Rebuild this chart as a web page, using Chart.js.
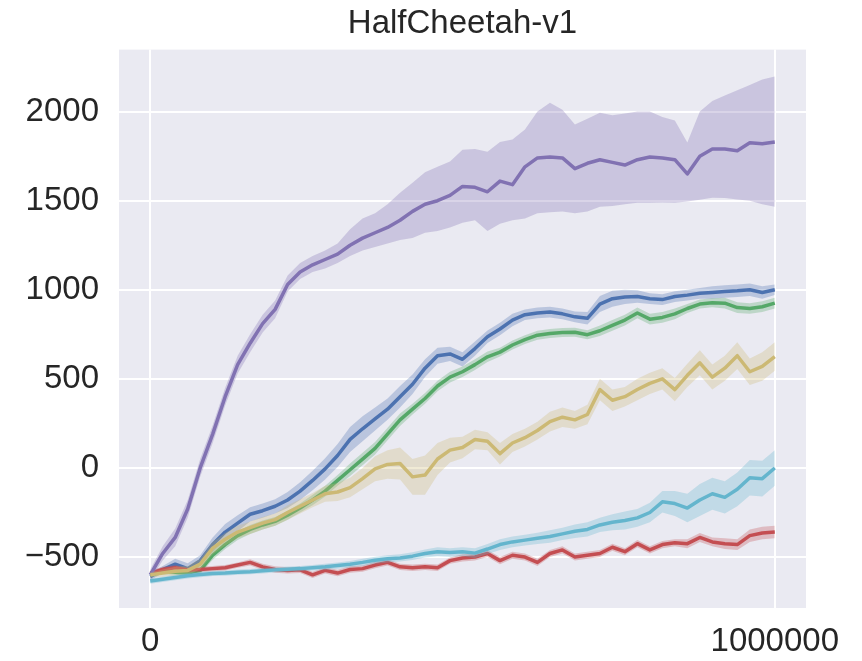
<!DOCTYPE html>
<html>
<head>
<meta charset="utf-8">
<style>
  html, body { margin: 0; padding: 0; background: #ffffff; }
  #wrap { width: 862px; height: 661px; position: relative; }
</style>
<script src="https://cdn.jsdelivr.net/npm/chart.js"></script>
</head>
<body>
<div id="wrap"><canvas id="chart"></canvas></div>
<script>
// timesteps (every 20000 steps)
const steps = [0, 20000, 40000, 60000, 80000, 100000, 120000, 140000, 160000, 180000,
  200000, 220000, 240000, 260000, 280000, 300000, 320000, 340000, 360000, 380000,
  400000, 420000, 440000, 460000, 480000, 500000, 520000, 540000, 560000, 580000,
  600000, 620000, 640000, 660000, 680000, 700000, 720000, 740000, 760000, 780000,
  800000, 820000, 840000, 860000, 880000, 900000, 920000, 940000, 960000, 980000, 1000000];

const xTicks = [0, 1000000];
const yTicks = [-500, 0, 500, 1000, 1500, 2000];

// purple: mean with its own upper / lower band
const purpleMean = [-600, -480, -390, -230, 0, 190, 400, 580, 700, 810, 890,
  1030, 1100, 1140, 1170, 1200, 1250, 1290, 1320, 1350, 1390,
  1440, 1480, 1500, 1530, 1580, 1575, 1550, 1610, 1590, 1690,
  1740, 1745, 1740, 1680, 1710, 1730, 1715, 1700, 1730, 1745,
  1740, 1730, 1650, 1750, 1790, 1790, 1780, 1825, 1820, 1830];
const purpleHi = [-570, -440, -340, -180, 50, 240, 450, 630, 750, 860, 940,
  1080, 1150, 1190, 1220, 1260, 1340, 1400, 1430, 1480, 1545,
  1600, 1660, 1690, 1720, 1786, 1790, 1775, 1830, 1843, 1900,
  2000, 2050, 2011, 1927, 1960, 1994, 1980, 1990, 2000, 2000,
  1970, 1950, 1826, 2000, 2060, 2090, 2120, 2150, 2180, 2197];
const purpleLo = [-630, -520, -440, -280, -50, 140, 350, 530, 650, 760, 840,
  990, 1060, 1100, 1120, 1150, 1190, 1220, 1240, 1260, 1280,
  1290, 1320, 1330, 1350, 1376, 1390, 1330, 1370, 1390, 1400,
  1430, 1435, 1440, 1430, 1440, 1466, 1470, 1480, 1489, 1489,
  1490, 1489, 1495, 1505, 1517, 1515, 1506, 1500, 1480, 1466];

// other curves: mean and half-width of the shaded band
const blueMean = [-610, -570, -540, -565, -520, -430, -360, -310, -260, -240, -215,
  -180, -130, -70, -5, 70, 160, 220, 275, 330, 400,
  470, 560, 630, 640, 610, 670, 736, 780, 830, 860,
  870, 875, 865, 848, 840, 920, 950, 960, 962, 950,
  945, 962, 970, 980, 985, 990, 994, 1000, 985, 1000];
const blueSpread = [20, 20, 30, 30, 30, 40, 45, 45, 40, 40, 40,
  45, 50, 55, 60, 65, 70, 70, 65, 60, 60,
  55, 50, 45, 40, 40, 40, 35, 35, 35, 30,
  30, 30, 30, 30, 35, 45, 45, 40, 35, 30,
  30, 30, 30, 30, 35, 35, 35, 35, 35, 30];

const greenMean = [-600, -580, -585, -590, -575, -490, -430, -380, -345, -320, -300,
  -265, -225, -180, -130, -70, -10, 50, 110, 190, 270,
  330, 390, 460, 510, 540, 580, 624, 650, 690, 720,
  745, 755, 760, 762, 748, 770, 800, 830, 870, 835,
  845, 865, 895, 920, 927, 925, 900, 895, 905, 925];
const greenSpread = [15, 15, 15, 15, 20, 25, 25, 25, 25, 25, 25,
  25, 25, 30, 30, 30, 35, 35, 35, 35, 35,
  30, 30, 30, 30, 30, 30, 30, 25, 25, 25,
  25, 25, 25, 25, 25, 30, 30, 30, 30, 30,
  30, 30, 25, 25, 25, 30, 30, 30, 30, 30];

const redMean = [-590, -570, -560, -573, -570, -565, -560, -545, -530, -555, -570,
  -575, -572, -600, -575, -590, -570, -565, -545, -530, -555,
  -560, -555, -560, -520, -505, -500, -480, -520, -490, -500,
  -530, -480, -460, -500, -490, -480, -445, -470, -425, -460,
  -430, -420, -425, -390, -415, -425, -430, -380, -365, -360];
const redSpread = [15, 15, 15, 15, 15, 15, 15, 15, 18, 18, 18,
  18, 18, 18, 18, 18, 18, 18, 18, 18, 18,
  18, 18, 18, 18, 20, 20, 20, 20, 20, 20,
  20, 20, 20, 20, 20, 20, 20, 20, 20, 20,
  20, 20, 25, 25, 25, 30, 30, 35, 35, 35];

const yellowMean = [-600, -590, -580, -575, -540, -450, -400, -360, -335, -310, -290,
  -250, -215, -180, -145, -135, -110, -60, -5, 20, 25,
  -50, -40, 50, 100, 115, 160, 150, 80, 140, 170,
  210, 260, 285, 270, 300, 440, 380, 400, 440, 475,
  500, 440, 520, 590, 510, 560, 630, 540, 570, 625];
const yellowSpread = [15, 20, 25, 25, 30, 35, 35, 35, 35, 35, 35,
  40, 40, 40, 45, 50, 55, 60, 70, 80, 90,
  100, 110, 90, 70, 60, 55, 50, 60, 50, 50,
  50, 55, 55, 50, 55, 60, 60, 55, 60, 60,
  60, 65, 65, 70, 70, 70, 75, 75, 80, 80];

const cyanMean = [-635, -625, -615, -605, -598, -592, -590, -585, -582, -577, -572,
  -568, -565, -560, -555, -548, -540, -530, -518, -510, -505,
  -495, -480, -470, -475, -470, -478, -455, -430, -415, -405,
  -395, -385, -370, -355, -345, -320, -305, -295, -280, -250,
  -190, -200, -225, -180, -145, -165, -120, -55, -60, 0];
const cyanSpread = [15, 15, 15, 15, 15, 15, 15, 15, 15, 15, 15,
  15, 15, 15, 18, 18, 18, 20, 20, 20, 20,
  22, 22, 25, 25, 25, 28, 28, 30, 30, 30,
  32, 35, 35, 38, 40, 40, 45, 50, 50, 55,
  60, 70, 80, 90, 90, 90, 95, 100, 100, 100];

const seriesColors = {
  blue: '76, 114, 176',
  green: '85, 168, 104',
  red: '196, 78, 82',
  purple: '129, 114, 178',
  yellow: '204, 185, 116',
  cyan: '100, 181, 205'
};

function pts(values) {
  return steps.map((x, i) => ({ x: x, y: values[i] }));
}

// plotting order: later series end up on top
const series = [
  { color: seriesColors.blue,   mean: blueMean,   hi: blueMean.map((v, i) => v + blueSpread[i]),     lo: blueMean.map((v, i) => v - blueSpread[i]) },
  { color: seriesColors.green,  mean: greenMean,  hi: greenMean.map((v, i) => v + greenSpread[i]),   lo: greenMean.map((v, i) => v - greenSpread[i]) },
  { color: seriesColors.red,    mean: redMean,    hi: redMean.map((v, i) => v + redSpread[i]),       lo: redMean.map((v, i) => v - redSpread[i]) },
  { color: seriesColors.purple, mean: purpleMean, hi: purpleHi,                                       lo: purpleLo },
  { color: seriesColors.yellow, mean: yellowMean, hi: yellowMean.map((v, i) => v + yellowSpread[i]), lo: yellowMean.map((v, i) => v - yellowSpread[i]) },
  { color: seriesColors.cyan,   mean: cyanMean,   hi: cyanMean.map((v, i) => v + cyanSpread[i]),     lo: cyanMean.map((v, i) => v - cyanSpread[i]) }
];

const datasets = [];
series.forEach((s, k) => {
  const base = 100 - k * 10;
  datasets.push({
    data: pts(s.hi),
    borderWidth: 0,
    pointRadius: 0,
    fill: '+1',
    backgroundColor: 'rgba(' + s.color + ', 0.3)',
    order: base + 2
  });
  datasets.push({
    data: pts(s.lo),
    borderWidth: 0,
    pointRadius: 0,
    fill: false,
    order: base + 1
  });
  datasets.push({
    data: pts(s.mean),
    borderColor: 'rgb(' + s.color + ')',
    borderWidth: 3.5,
    pointRadius: 0,
    fill: false,
    tension: 0,
    borderJoinStyle: 'round',
    order: base
  });
});

// seaborn darkgrid background inside the axes
const plotBackground = {
  id: 'plotBackground',
  beforeDraw(chart) {
    const a = chart.chartArea;
    const ctx = chart.ctx;
    ctx.save();
    ctx.fillStyle = '#EAEAF2';
    ctx.fillRect(a.left, a.top, a.right - a.left, a.bottom - a.top);
    ctx.restore();
  }
};

const textColor = '#262626';
const fontFamily = "'Liberation Sans', Arial, Helvetica, sans-serif";

function fmt(v) {
  return v < 0 ? '\u2212' + Math.abs(v) : String(v);
}

new Chart(document.getElementById('chart').getContext('2d'), {
  type: 'line',
  data: { datasets: datasets },
  plugins: [plotBackground],
  options: {
    responsive: true,
    maintainAspectRatio: false,
    animation: false,
    events: [],
    layout: { padding: { left: 0, right: 56, top: 0, bottom: 0 } },
    plugins: {
      legend: { display: false },
      tooltip: { enabled: false },
      title: {
        display: true,
        fullSize: false,
        text: 'HalfCheetah-v1',
        color: textColor,
        font: { family: fontFamily, size: 33, weight: 'normal', lineHeight: 1.2 },
        padding: { top: 4, bottom: 6 }
      }
    },
    scales: {
      x: {
        type: 'linear',
        min: -50000,
        max: 1050000,
        afterBuildTicks: scale => { scale.ticks = xTicks.map(v => ({ value: v })); },
        afterFit: scale => { scale.height = 53; },
        grid: { color: '#ffffff', lineWidth: 2, drawTicks: false },
        border: { display: false },
        ticks: {
          color: textColor,
          padding: 14,
          maxRotation: 0,
          font: { family: fontFamily, size: 33, lineHeight: 1.2 },
          callback: v => fmt(v)
        }
      },
      y: {
        type: 'linear',
        min: -786,
        max: 2348,
        afterBuildTicks: scale => { scale.ticks = yTicks.map(v => ({ value: v })); },
        afterFit: scale => { scale.width = 119; },
        grid: { color: '#ffffff', lineWidth: 2, drawTicks: false },
        border: { display: false },
        ticks: {
          color: textColor,
          padding: 20,
          font: { family: fontFamily, size: 33, lineHeight: 1.2 },
          callback: v => fmt(v)
        }
      }
    }
  }
});
</script>
</body>
</html>
